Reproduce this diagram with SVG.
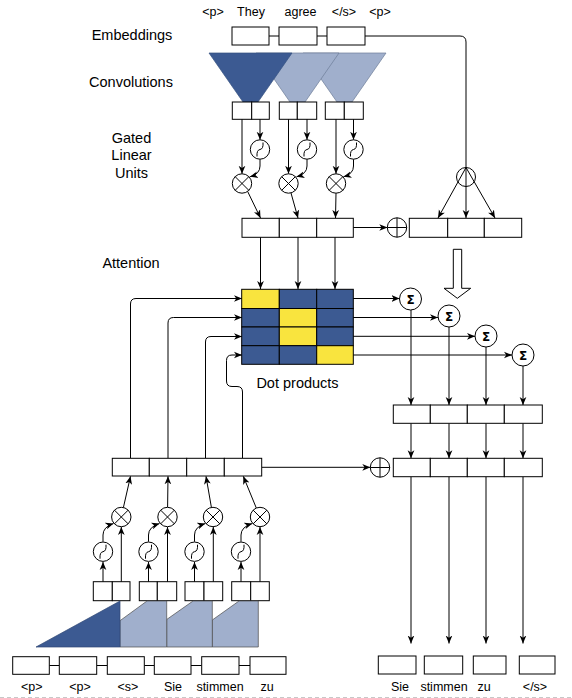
<svg xmlns="http://www.w3.org/2000/svg" width="572" height="698" viewBox="0 0 572 698">
<defs>
<marker id="a" viewBox="0 0 10 10" refX="10" refY="5" markerWidth="8" markerHeight="8" markerUnits="userSpaceOnUse" orient="auto">
<path d="M0,0.8 L10,5 L0,9.2 L2.8,5 z" fill="#000"/>
</marker>
<symbol id="mul" overflow="visible"><circle r="9.7" fill="#fff" stroke="#000" stroke-width="1"/><path d="M-6.9,-6.9 L6.9,6.9 M-6.9,6.9 L6.9,-6.9" stroke="#000" stroke-width="1"/></symbol>
<symbol id="plus" overflow="visible"><circle r="9.7" fill="#fff" stroke="#000" stroke-width="1"/><path d="M-9.7,0 L9.7,0 M0,-9.7 L0,9.7" stroke="#000" stroke-width="1"/></symbol>
<symbol id="sig" overflow="visible"><circle r="9.7" fill="#fff" stroke="#000" stroke-width="1"/><path d="M-3,7 Q-3.5,0.5 0,0 Q3.5,-0.5 3,-7" fill="none" stroke="#000" stroke-width="1"/></symbol>
<symbol id="sum" overflow="visible"><circle r="11" fill="#fff" stroke="#000" stroke-width="1"/><text x="0" y="4.5" text-anchor="middle" font-family="'DejaVu Sans', sans-serif" font-weight="bold" font-size="12">Σ</text></symbol>
</defs>
<style>
.b{fill:#fff;stroke:#000;stroke-width:1}
.c{fill:none;stroke:#000;stroke-width:1}
.ca{fill:none;stroke:#000;stroke-width:1;marker-end:url(#a)}
.t{font-family:"Liberation Sans",Arial,sans-serif;font-size:12.5px;fill:#000;text-anchor:middle}
.h{font-family:"Liberation Sans",Arial,sans-serif;font-size:14.5px;fill:#000;text-anchor:middle}
.dk{fill:#3C5A92}
.lt{fill:#A0AFCC}
.ye{fill:#F9E43E}
.cell{stroke:#000;stroke-width:1}
</style>

<g id="labels">
<text class="h" x="132" y="40">Embeddings</text>
<text class="h" x="131" y="86.5">Convolutions</text>
<text class="h" x="131.5" y="143">Gated</text>
<text class="h" x="131.5" y="160">Linear</text>
<text class="h" x="131.5" y="177.5">Units</text>
<text class="h" x="131" y="268">Attention</text>
<text class="h" x="297.5" y="388">Dot products</text>
</g>

<g id="source-words">
<text class="t" x="213" y="16">&lt;p&gt;</text>
<text class="t" x="251" y="16">They</text>
<text class="t" x="300.5" y="16">agree</text>
<text class="t" x="344" y="16">&lt;/s&gt;</text>
<text class="t" x="380" y="16">&lt;p&gt;</text>
</g>

<g id="connectors">
<path class="c" d="M269,36 L279,36 M317,36 L327,36"/>
<path class="c" d="M365,36 L460,36 Q466,36 466,42 L466,167.5"/>
<path class="ca" d="M242,119 L242,173.8"/>
<path class="ca" d="M260,119 L260,139.8"/>
<path class="ca" d="M260,159.2 L260,166 Q260,174 250,176.8"/>
<path class="ca" d="M288.5,119 L288.5,173.8"/>
<path class="ca" d="M307,119 L307,139.8"/>
<path class="ca" d="M307,159.2 L307,166 Q307,174 296.5,176.8"/>
<path class="ca" d="M336,119 L336,173.8"/>
<path class="ca" d="M353.5,119 L353.5,139.8"/>
<path class="ca" d="M353.5,159.2 L353.5,166 Q353.5,174 343.5,176.8"/>
<path class="ca" d="M247.6,191.4 L260.5,218"/>
<path class="ca" d="M291,193 L298,218"/>
<path class="ca" d="M336,193.2 L335.5,218"/>
<path class="ca" d="M353,227.5 L387.3,227.5"/>
<path class="ca" d="M466,167.5 L438,218"/>
<path class="ca" d="M466,167.5 L466,218"/>
<path class="ca" d="M466,167.5 L495,218"/>
<path class="ca" d="M260.5,237 L260.5,289"/>
<path class="ca" d="M298,237 L298,289"/>
<path class="ca" d="M335,237 L335,289"/>
<path class="ca" d="M353,298.5 L399.5,298.5"/>
<path class="ca" d="M353,317.5 L438,317.5"/>
<path class="ca" d="M353,336.3 L475,336.3"/>
<path class="ca" d="M353,355 L512,355"/>
<path class="ca" d="M411,310 L411,405"/>
<path class="ca" d="M449,327 L449,405"/>
<path class="ca" d="M486,347 L486,405"/>
<path class="ca" d="M523,366 L523,405"/>
<path class="ca" d="M411,423.3 L411,458.3"/>
<path class="ca" d="M449,423.3 L449,458.3"/>
<path class="ca" d="M486,423.3 L486,458.3"/>
<path class="ca" d="M523,423.3 L523,458.3"/>
<path class="ca" d="M411,476.7 L411,643.5"/>
<path class="ca" d="M449,476.7 L449,643.5"/>
<path class="ca" d="M486,476.7 L486,643.5"/>
<path class="ca" d="M523,476.7 L523,643.5"/>
<path class="ca" d="M262,467.3 L370.3,467.3"/>
<path class="ca" d="M130.5,458 L130.5,304 Q130.5,298.5 136,298.5 L242,298.5"/>
<path class="ca" d="M168,458 L168,323 Q168,317.5 173.5,317.5 L242,317.5"/>
<path class="ca" d="M205.5,458 L205.5,342 Q205.5,336.5 211,336.5 L242,336.5"/>
<path class="ca" d="M242.5,458 L242.5,392 Q242.5,386.5 237,386.5 L232,386.5 Q226.5,386.5 226.5,381 L226.5,360.5 Q226.5,355 232,355 L242,355"/>
<path class="ca" d="M103,582 L103,562"/>
<path class="ca" d="M121.3,582 L121.3,527"/>
<path class="ca" d="M103,541.7 L103,535 Q103,527 113.5,523.5"/>
<path class="ca" d="M148.5,582 L148.5,562"/>
<path class="ca" d="M167.5,582 L167.5,527"/>
<path class="ca" d="M148.5,541.7 L148.5,535 Q148.5,527 159.5,523.5"/>
<path class="ca" d="M194.5,582 L194.5,562"/>
<path class="ca" d="M213.3,582 L213.3,527"/>
<path class="ca" d="M194.5,541.7 L194.5,535 Q194.5,527 205.3,523.5"/>
<path class="ca" d="M241,582 L241,562"/>
<path class="ca" d="M260,582 L260,527"/>
<path class="ca" d="M241,541.7 L241,535 Q241,527 252.3,523.5"/>
<path class="ca" d="M123.4,507.5 L130.5,476.3"/>
<path class="ca" d="M167.6,507.3 L168,476.3"/>
<path class="ca" d="M211.4,507.4 L206,476.3"/>
<path class="ca" d="M256.3,508 L243.3,476.3"/>
<path class="c" d="M49.3,665.5 L59.3,665.5 M96.7,665.5 L107.3,665.5 M144.3,665.5 L154.3,665.5 M191,665.5 L201.7,665.5 M239,665.5 L250,665.5"/>
</g>

<g id="embeddings">
<rect class="b" x="232" y="27" width="37" height="18"/>
<rect class="b" x="279" y="27" width="38" height="18"/>
<rect class="b" x="327" y="27" width="38" height="18"/>
</g>

<g id="convolutions">
<polygon class="lt" points="303,53 386,53 352,102 337,102" stroke="#6d7c98" stroke-width="0.7"/>
<polygon class="lt" points="256,53 339,53 305,102 290,102" stroke="#6d7c98" stroke-width="0.7"/>
<polygon class="dk" points="209,53 292,53 258,102 243,102" stroke="#34507f" stroke-width="0.7"/>
</g>

<g id="conv-outputs">
<rect class="b" x="232.3" y="102" width="19.4" height="17.3"/>
<rect class="b" x="251.7" y="102" width="17.6" height="17.3"/>
<rect class="b" x="279.3" y="102" width="18" height="17.3"/>
<rect class="b" x="297.3" y="102" width="19.4" height="17.3"/>
<rect class="b" x="325.3" y="102" width="19" height="17.3"/>
<rect class="b" x="344.3" y="102" width="19" height="17.3"/>
</g>

<g id="top-glu">
<use href="#sig" x="260" y="149.5"/>
<use href="#sig" x="307" y="149.5"/>
<use href="#sig" x="353.5" y="149.5"/>
<use href="#mul" x="242" y="183.5"/>
<use href="#mul" x="288.5" y="183.5"/>
<use href="#mul" x="336" y="183.5"/>
</g>

<g id="encoder-out">
<rect class="b" x="242" y="218.3" width="37.3" height="19"/>
<rect class="b" x="279.3" y="218.3" width="37.4" height="19"/>
<rect class="b" x="316.7" y="218.3" width="36.6" height="19"/>
</g>

<g id="enc-plus"><use href="#plus" x="397" y="227.5"/></g>

<g id="split">
<circle cx="466" cy="177" r="9.5" fill="none" stroke="#000" stroke-width="1"/>
</g>

<g id="encoder-sum">
<rect class="b" x="409.3" y="218.3" width="38.4" height="19"/>
<rect class="b" x="447.7" y="218.3" width="36.6" height="19"/>
<rect class="b" x="484.3" y="218.3" width="37.4" height="19"/>
</g>

<g id="hollow-arrow">
<polygon points="453.3,249.3 461.7,249.3 461.7,288.3 470.7,288.3 457.3,298.3 444,288.3 453.3,288.3" fill="#fff" stroke="#000" stroke-width="1"/>
</g>

<g id="dot-products">
<rect class="ye cell" x="241.7" y="289.3" width="37.6" height="19.2"/>
<rect class="dk cell" x="279.3" y="289.3" width="37.4" height="19.2"/>
<rect class="dk cell" x="316.7" y="289.3" width="36.6" height="19.2"/>
<rect class="dk cell" x="241.7" y="308.5" width="37.6" height="18.5"/>
<rect class="ye cell" x="279.3" y="308.5" width="37.4" height="18.5"/>
<rect class="dk cell" x="316.7" y="308.5" width="36.6" height="18.5"/>
<rect class="dk cell" x="241.7" y="327" width="37.6" height="18.7"/>
<rect class="ye cell" x="279.3" y="327" width="37.4" height="18.7"/>
<rect class="dk cell" x="316.7" y="327" width="36.6" height="18.7"/>
<rect class="dk cell" x="241.7" y="345.7" width="37.6" height="18.6"/>
<rect class="dk cell" x="279.3" y="345.7" width="37.4" height="18.6"/>
<rect class="ye cell" x="316.7" y="345.7" width="36.6" height="18.6"/>
</g>

<g id="sums">
<use href="#sum" x="410.5" y="299"/>
<use href="#sum" x="449" y="316"/>
<use href="#sum" x="486" y="336"/>
<use href="#sum" x="523" y="355"/>
</g>

<g id="context">
<rect class="b" x="393.3" y="405" width="37" height="18.3"/>
<rect class="b" x="430.3" y="405" width="37" height="18.3"/>
<rect class="b" x="467.3" y="405" width="37" height="18.3"/>
<rect class="b" x="504.3" y="405" width="38" height="18.3"/>
</g>

<g id="dec-plus"><use href="#plus" x="380" y="467.5"/></g>

<g id="combined">
<rect class="b" x="393.3" y="458.3" width="37" height="18.4"/>
<rect class="b" x="430.3" y="458.3" width="37" height="18.4"/>
<rect class="b" x="467.3" y="458.3" width="37" height="18.4"/>
<rect class="b" x="504.3" y="458.3" width="38" height="18.4"/>
</g>

<g id="decoder-out">
<rect class="b" x="112.3" y="458.3" width="37" height="17.7"/>
<rect class="b" x="149.3" y="458.3" width="37.4" height="17.7"/>
<rect class="b" x="186.7" y="458.3" width="37.6" height="17.7"/>
<rect class="b" x="224.3" y="458.3" width="37.4" height="17.7"/>
</g>

<g id="bottom-glu">
<use href="#mul" x="121.3" y="517"/>
<use href="#mul" x="167.5" y="517"/>
<use href="#mul" x="213" y="517"/>
<use href="#mul" x="260" y="517"/>
<use href="#sig" x="103" y="551.7"/>
<use href="#sig" x="148.5" y="551.7"/>
<use href="#sig" x="194.5" y="551.7"/>
<use href="#sig" x="241" y="551.7"/>
</g>

<g id="dec-conv-outputs">
<rect class="b" x="93.3" y="581.7" width="19" height="19"/>
<rect class="b" x="112.3" y="581.7" width="17.7" height="19"/>
<rect class="b" x="139.3" y="581.7" width="18" height="19"/>
<rect class="b" x="157.3" y="581.7" width="19.4" height="19"/>
<rect class="b" x="185" y="581.7" width="19" height="19"/>
<rect class="b" x="204" y="581.7" width="18.7" height="19"/>
<rect class="b" x="231.7" y="581.7" width="19" height="19"/>
<rect class="b" x="250.7" y="581.7" width="18.6" height="19"/>
</g>

<g id="dec-convolutions">
<polygon class="lt" points="212.3,647 212.3,620 239,601 258.3,601 258.3,647" stroke="#4a4a4a" stroke-width="0.7"/>
<polygon class="lt" points="166.7,647 166.7,619.5 193,601 212.3,601 212.3,647" stroke="#4a4a4a" stroke-width="0.7"/>
<polygon class="lt" points="120,647 120,620.7 147,601 166.7,601 166.7,647" stroke="#4a4a4a" stroke-width="0.7"/>
<polygon class="dk" points="36,647 120,647 120,601" stroke="#2e4673" stroke-width="0.7"/>
</g>

<g id="decoder-inputs">
<rect class="b" x="12.7" y="656.7" width="36.6" height="17.6"/>
<rect class="b" x="59.3" y="656.7" width="37.4" height="17.6"/>
<rect class="b" x="107.3" y="656.7" width="37" height="17.6"/>
<rect class="b" x="154.3" y="656.7" width="36.7" height="17.6"/>
<rect class="b" x="201.7" y="656.7" width="37.3" height="17.6"/>
<rect class="b" x="250" y="656.7" width="36" height="17.6"/>
<text class="t" x="31.7" y="690.5">&lt;p&gt;</text>
<text class="t" x="80" y="690.5">&lt;p&gt;</text>
<text class="t" x="128" y="690.5">&lt;s&gt;</text>
<text class="t" x="173" y="690.5">Sie</text>
<text class="t" x="220" y="690.5">stimmen</text>
<text class="t" x="267" y="690.5">zu</text>
</g>

<g id="outputs">
<rect class="b" x="378.3" y="656" width="37.7" height="18"/>
<rect class="b" x="424.3" y="656" width="38.4" height="18"/>
<rect class="b" x="473.3" y="656" width="32.7" height="18"/>
<rect class="b" x="519.3" y="656" width="35.7" height="18"/>
<text class="t" x="400" y="690.5">Sie</text>
<text class="t" x="444" y="690.5">stimmen</text>
<text class="t" x="484" y="690.5">zu</text>
<text class="t" x="535" y="690.5">&lt;/s&gt;</text>
</g>

<line x1="0" y1="697.5" x2="572" y2="697.5" stroke="#c8c8c8" stroke-width="1" stroke-dasharray="4 3"/>
</svg>
